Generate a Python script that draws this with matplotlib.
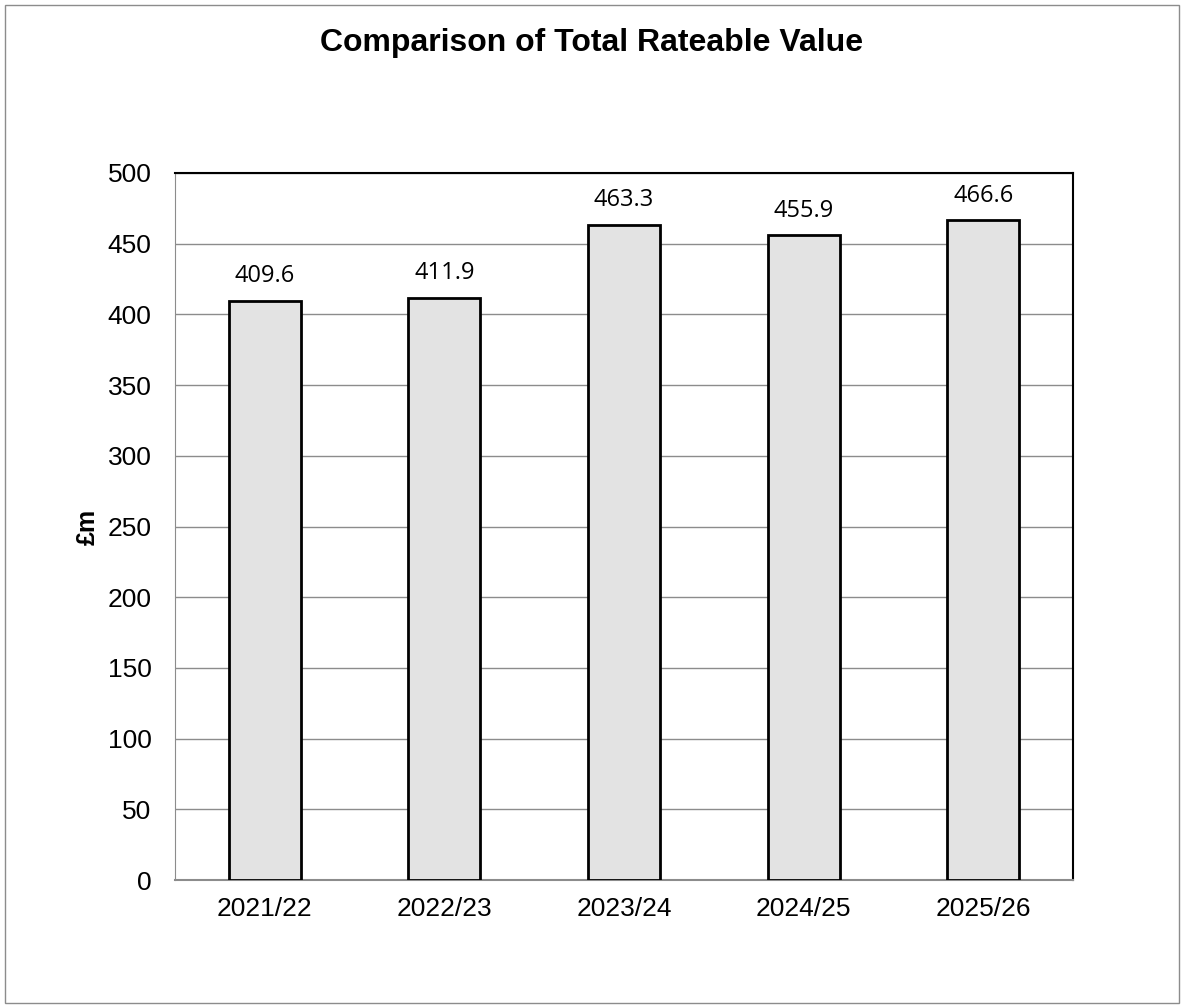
import matplotlib.pyplot as plt
from matplotlib.patches import Rectangle

years = ["2021/22", "2022/23", "2023/24", "2024/25", "2025/26"]
values = [409.6, 411.9, 463.3, 455.9, 466.6]
labels = ["409.6", "411.9", "463.3", "455.9", "466.6"]

plt.rcParams['font.family'] = ['Liberation Sans', 'DejaVu Sans']

fig = plt.figure(figsize=(11.83, 10.07), dpi=100)
ax = fig.add_axes([175/1183, 1 - 880/1007, 898/1183, 707/1007])

x = range(len(years))
bars = ax.bar(x, values, width=0.4, color='#e3e3e3', edgecolor='black', linewidth=2, zorder=3)

for b, lab in zip(bars, labels):
    ax.text(b.get_x() + b.get_width()/2, b.get_height() + 9, lab,
            ha='center', va='bottom', fontsize=17, family=['Open Sans', 'DejaVu Sans'])

ax.set_xlim(-0.5, len(years) - 0.5)
ax.set_ylim(0, 500)
ax.set_yticks(range(0, 501, 50))
ax.set_xticks(list(x))
ax.set_xticklabels(years)
ax.tick_params(axis='both', labelsize=19, length=0)
ax.tick_params(axis='x', pad=12)
ax.tick_params(axis='y', pad=17)
ax.yaxis.grid(True, color='#8c8c8c', linewidth=1, zorder=0)
ax.set_axisbelow(True)

ax.spines['left'].set_color('#8c8c8c')
ax.spines['bottom'].set_color('#8c8c8c')
ax.spines['bottom'].set_linewidth(1.5)
ax.spines['top'].set_linewidth(1.5)
ax.spines['right'].set_linewidth(1.5)

ax.set_ylabel("£m", fontsize=18, fontweight='bold')
ax.yaxis.set_label_coords((100 - 175) / 898, 0.5)
fig.text(0.5, 1 - 43/1007, "Comparison of Total Rateable Value",
         ha='center', va='center', fontsize=23, fontweight='bold')

fig.patches.append(Rectangle((5/1183, 4/1007), 1174/1183, 998/1007, transform=fig.transFigure,
                             fill=False, edgecolor='#8c8c8c', linewidth=1))

fig.savefig("out.png", dpi=100)
